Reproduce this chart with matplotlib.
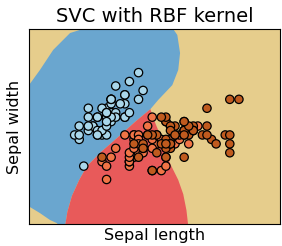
"""
SVC with RBF kernel - iris sepal measurements

Decision regions traced from the reference picture (no sklearn here),
with the iris sepal length / width points drawn on top.
"""

import numpy as np
import matplotlib
matplotlib.use("Agg")
import matplotlib.pyplot as plt

# Iris sepal length / width, 50 samples per class
sepal_length = [
    5.1, 4.9, 4.7, 4.6, 5.0, 5.4, 4.6, 5.0, 4.4, 4.9, 5.4, 4.8, 4.8, 4.3, 5.8,
    5.7, 5.4, 5.1, 5.7, 5.1, 5.4, 5.1, 4.6, 5.1, 4.8, 5.0, 5.0, 5.2, 5.2, 4.7,
    4.8, 5.4, 5.2, 5.5, 4.9, 5.0, 5.5, 4.9, 4.4, 5.1, 5.0, 4.5, 4.4, 5.0, 5.1,
    4.8, 5.1, 4.6, 5.3, 5.0,
    7.0, 6.4, 6.9, 5.5, 6.5, 5.7, 6.3, 4.9, 6.6, 5.2, 5.0, 5.9, 6.0, 6.1, 5.6,
    6.7, 5.6, 5.8, 6.2, 5.6, 5.9, 6.1, 6.3, 6.1, 6.4, 6.6, 6.8, 6.7, 6.0, 5.7,
    5.5, 5.5, 5.8, 6.0, 5.4, 6.0, 6.7, 6.3, 5.6, 5.5, 5.5, 6.1, 5.8, 5.0, 5.6,
    5.7, 5.7, 6.2, 5.1, 5.7,
    6.3, 5.8, 7.1, 6.3, 6.5, 7.6, 4.9, 7.3, 6.7, 7.2, 6.5, 6.4, 6.8, 5.7, 5.8,
    6.4, 6.5, 7.7, 7.7, 6.0, 6.9, 5.6, 7.7, 6.3, 6.7, 7.2, 6.2, 6.1, 6.4, 7.2,
    7.4, 7.9, 6.4, 6.3, 6.1, 7.7, 6.3, 6.4, 6.0, 6.9, 6.7, 6.9, 5.8, 6.8, 6.7,
    6.7, 6.3, 6.5, 6.2, 5.9,
]
sepal_width = [
    3.5, 3.0, 3.2, 3.1, 3.6, 3.9, 3.4, 3.4, 2.9, 3.1, 3.7, 3.4, 3.0, 3.0, 4.0,
    4.4, 3.9, 3.5, 3.8, 3.8, 3.4, 3.7, 3.6, 3.3, 3.4, 3.0, 3.4, 3.5, 3.4, 3.2,
    3.1, 3.4, 4.1, 4.2, 3.1, 3.2, 3.5, 3.6, 3.0, 3.4, 3.5, 2.3, 3.2, 3.5, 3.8,
    3.0, 3.8, 3.2, 3.7, 3.3,
    3.2, 3.2, 3.1, 2.3, 2.8, 2.8, 3.3, 2.4, 2.9, 2.7, 2.0, 3.0, 2.2, 2.9, 2.9,
    3.1, 3.0, 2.7, 2.2, 2.5, 3.2, 2.8, 2.5, 2.8, 2.9, 3.0, 2.8, 3.0, 2.9, 2.6,
    2.4, 2.4, 2.7, 2.7, 3.0, 3.4, 3.1, 2.3, 3.0, 2.5, 2.6, 3.0, 2.6, 2.3, 2.7,
    3.0, 2.9, 2.9, 2.5, 2.8,
    3.3, 2.7, 3.0, 2.9, 3.0, 3.0, 2.5, 2.9, 2.5, 3.6, 3.2, 2.7, 3.0, 2.5, 2.8,
    3.2, 3.0, 3.8, 2.6, 2.2, 3.2, 2.8, 2.8, 2.7, 3.3, 3.2, 2.8, 3.0, 2.8, 3.0,
    2.8, 3.8, 2.8, 2.8, 2.6, 3.0, 3.4, 3.1, 3.0, 3.1, 3.1, 3.1, 2.7, 3.2, 3.3,
    3.0, 2.5, 3.0, 3.4, 3.0,
]
species = [0] * 50 + [1] * 50 + [2] * 50

# Decision region outlines (data coords)
# blue region (class 0), traced clockwise from the left edge
blue_x = [3.25, 3.54, 3.83, 4.20, 4.48, 4.53, 6.42, 6.46, 6.55, 6.61, 6.57,
          6.44, 6.13, 5.96, 5.62, 5.25, 4.88, 4.57, 4.40, 4.24, 4.14, 4.09,
          3.96, 3.91, 3.76, 3.54, 3.25]
blue_y = [4.05, 4.46, 4.91, 5.29, 5.38, 5.45, 5.45, 5.38, 5.245, 4.84, 4.46,
          4.12, 3.785, 3.58, 3.29, 2.95, 2.62, 2.30, 1.99, 1.63, 1.27, 0.95,
          0.95, 1.02, 1.09, 1.245, 1.425]
# red region (class 1), between the blue region and the tan one
red_x = [5.96, 5.62, 5.25, 4.88, 4.57, 4.40, 4.24, 4.14, 4.09,
         6.79, 6.75, 6.68, 6.57, 6.41, 6.24, 6.13, 6.04]
red_y = [3.58, 3.29, 2.95, 2.62, 2.30, 1.99, 1.63, 1.27, 0.95,
         0.95, 1.31, 1.67, 1.99, 2.32, 2.73, 3.11, 3.335]

region_colors = ["#6aa6cf", "#e85a5a", "#e6cd8c"]
point_colors = ["#a9d6ea", "#f07446", "#bf5a1e"]

fig = plt.figure(figsize=(2.82, 2.46), dpi=100)
ax = fig.add_axes([29 / 282, 1 - 224 / 246, 251 / 282, 195 / 246])
ax.set_facecolor(region_colors[2])

ax.fill(blue_x, blue_y, color=region_colors[0], lw=0)
ax.fill(red_x, red_y, color=region_colors[1], lw=0)

cols = [point_colors[s] for s in species]
ax.scatter(sepal_length, sepal_width, c=cols, s=36, edgecolors="k",
           linewidths=0.9, zorder=3)

ax.set_xlim(3.3, 8.8)
ax.set_ylim(1.0, 5.38)
ax.set_xticks(())
ax.set_yticks(())
ax.set_xlabel("Sepal length", fontsize=11.5, labelpad=3)
ax.set_ylabel("Sepal width", fontsize=11.5, labelpad=5)
ax.set_title("SVC with RBF kernel", fontsize=14, pad=5)

fig.savefig("out.png", dpi=100)
